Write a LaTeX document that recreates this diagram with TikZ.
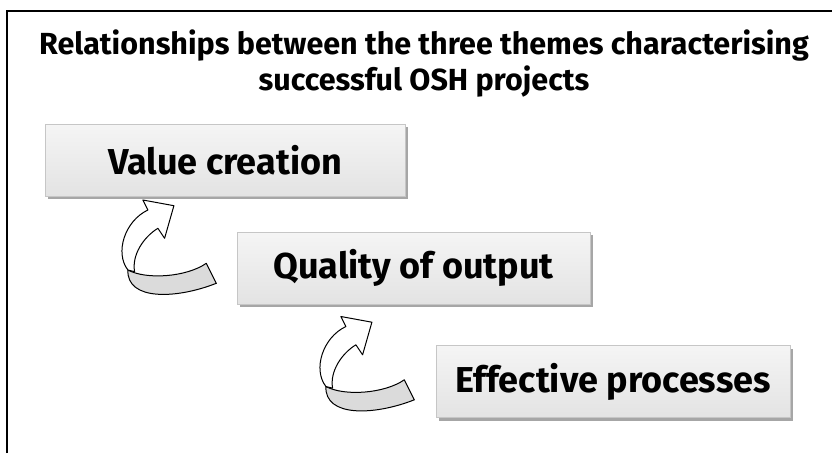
\documentclass[tikz,border=0pt]{standalone}
\usepackage{fontspec}
\setmainfont{Fira Sans}
\usetikzlibrary{positioning,shadows,calc}

\tikzset{
  theme/.style={draw=gray!45, line width=0.8pt, top color=gray!8, bottom color=gray!22,
    minimum height=72pt, inner sep=0pt, font=\fontsize{36}{40}\selectfont\bfseries,
    drop shadow={shadow xshift=3pt, shadow yshift=-3pt, fill=gray!70, opacity=1}},
  ribbon/.style={draw=black, line width=1pt, line join=round, fill=gray!28},
  arrowface/.style={draw=black, line width=1pt, line join=round, fill=white},
  pics/turn/.style={code={
    % underside of the ribbon
    \draw[ribbon] (-83.7,-3) .. controls (-65,7) and (-25,4) .. (-5.3,-9.7) -- (4.7,10.3)
      .. controls (-35,26) and (-85,28) .. cycle;
    % upper face with the head
    \draw[arrowface] (-83.7,-3) .. controls (-97,-20) and (-87,-52) .. (-63.7,-63)
      -- (-68.7,-73) -- (-37.7,-67.3) -- (-47,-34.7) -- (-53.7,-44.7)
      .. controls (-68,-36) and (-80,-18) .. (-77,-1.3) -- cycle;
  }}
}

\begin{document}
\begin{tikzpicture}[x=1pt,y=-1pt]
\useasboundingbox (0,0) rectangle (832,453);
\draw[line width=2.5pt] (7,453) -- (7,11) -- (832,11);

\node[font=\fontsize{30.5}{36}\selectfont\bfseries, align=center] (title) at (424,64)
  {Relationships between the three themes characterising\\successful OSH projects};

\node[theme, minimum width=360pt] (value) at (225,160) {Value creation};
\node[theme, minimum width=353pt] (quality) at (413.5,268) {Quality of output};
\node[theme, minimum width=354pt] (effective) at (613,381.5) {Effective processes};

\pic at ($(quality.west)+(-25,5)$) {turn};
\pic at ($(effective.west)+(-26,8)$) {turn};
\end{tikzpicture}
\end{document}
